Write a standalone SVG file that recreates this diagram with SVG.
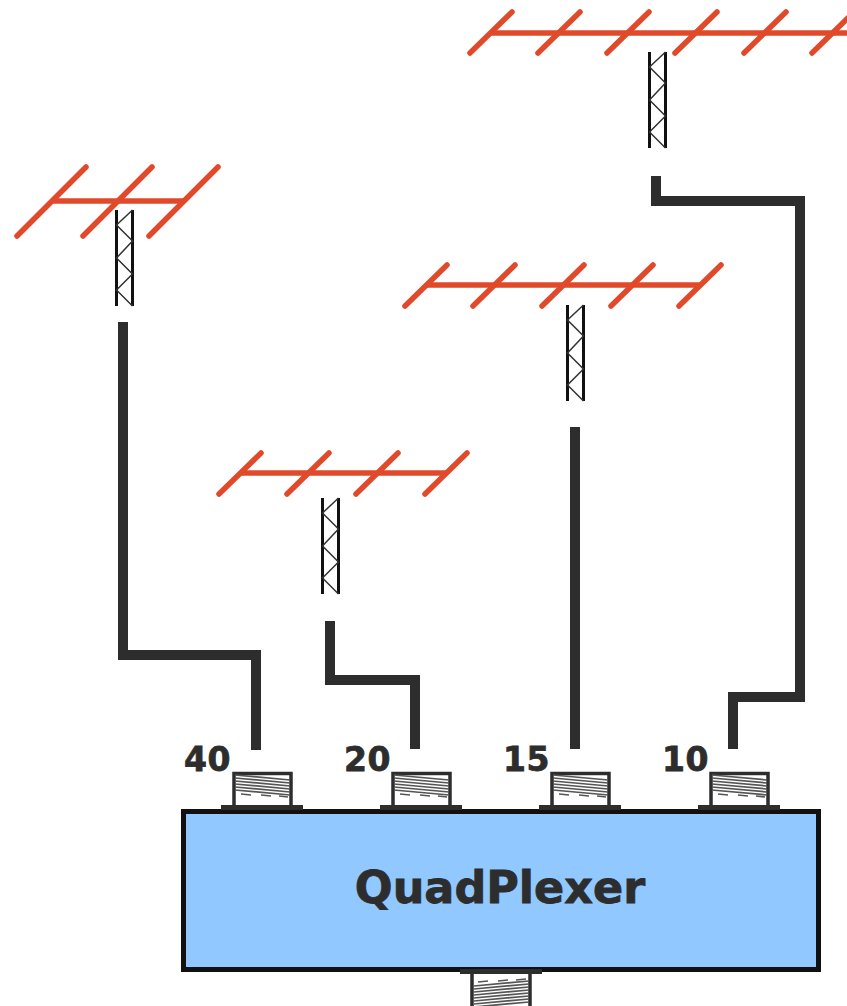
<svg xmlns="http://www.w3.org/2000/svg" width="847" height="1006" viewBox="0 0 847 1006">
<style>
.el{stroke:#e04a2a;stroke-width:5.500;stroke-linecap:round;fill:none}
.boom{stroke:#e04a2a;stroke-width:5.500;fill:none}
.rail{stroke:#111;stroke-width:3;fill:none}
.zig{stroke:#333;stroke-width:1.500;fill:none}
.coax{stroke:#2d2d2d;stroke-width:10;fill:none;stroke-linejoin:miter}
.thread{stroke:#555;stroke-width:1.700;fill:none}
.body{fill:#fff;stroke:#2d2d2d;stroke-width:3.500}
.base{fill:#2d2d2d}
.lbl{font-family:"DejaVu Sans",sans-serif;font-weight:bold;font-size:33px;letter-spacing:0.500px;fill:#2d2d2d;stroke:#2d2d2d;stroke-width:0.800}
.title{font-family:"DejaVu Sans",sans-serif;font-weight:bold;font-size:44.500px;fill:#2d2d2d;stroke:#2d2d2d;stroke-width:0.800}
</style>
<defs>
<g id="tower">
<path class="rail" d="M0.500 0V96M16.500 0V96"/>
<path class="zig" d="M16.500 0L0.500 15L16.500 31L0.500 48L16.500 64L0.500 80L16.500 96"/>
</g>
<g id="yagi"><path class="el" d="M0 41L42 0"/></g>
<g id="thr">
<path class="thread" d="M0 1L55 6M0 4L55 9M0 7L55 12M0 10L55 15M0 13L55 18M0 16L55 21M6 20L16 21M26 21L36 22M44 22L53 23"/>
</g>
<g id="conn">
<rect class="body" x="1" y="1.500" width="57" height="34"/>
<use href="#thr" x="2" y="2"/>
<rect class="base" x="-12" y="33" width="82" height="5"/>
</g>
</defs>

<g id="connectors">
<path class="coax" d="M123 322V655H256V750"/>
<path class="coax" d="M330 621V680H415V749"/>
<path class="coax" d="M575 427V749"/>
<path class="coax" d="M656 176V201H800V697H733V749"/>
</g>

<g id="antenna-40">
<path class="boom" d="M52 201H183"/>
<path class="el" d="M17 236L86 167M83 236L152 167M149 236L218 167"/>
<use href="#tower" x="116" y="210"/>
</g>
<g id="antenna-20">
<path class="boom" d="M240 473H446"/>
<use href="#yagi" x="219" y="453"/><use href="#yagi" x="287" y="453"/><use href="#yagi" x="356" y="453"/><use href="#yagi" x="425" y="453"/>
<use href="#tower" x="322" y="498"/>
</g>
<g id="antenna-15">
<path class="boom" d="M426 285H700"/>
<use href="#yagi" x="405" y="265"/><use href="#yagi" x="473" y="265"/><use href="#yagi" x="542" y="265"/><use href="#yagi" x="611" y="265"/><use href="#yagi" x="679" y="265"/>
<use href="#tower" x="567" y="305"/>
</g>
<g id="antenna-10">
<path class="boom" d="M491 33H847"/>
<use href="#yagi" x="470" y="12"/><use href="#yagi" x="538" y="12"/><use href="#yagi" x="607" y="12"/><use href="#yagi" x="675" y="12"/><use href="#yagi" x="744" y="12"/><use href="#yagi" x="812" y="12"/>
<use href="#tower" x="649" y="52"/>
</g>

<g id="quadplexer">
<rect x="183.500" y="811.500" width="635" height="158" fill="#90c8ff" stroke="#111" stroke-width="5"/>
<text class="title" x="500" y="903" text-anchor="middle">QuadPlexer</text>
</g>

<g id="port-40"><use href="#conn" x="233" y="772"/><text class="lbl" x="184" y="771">40</text></g>
<g id="port-20"><use href="#conn" x="392" y="772"/><text class="lbl" x="344" y="771">20</text></g>
<g id="port-15"><use href="#conn" x="551" y="772"/><text class="lbl" x="503" y="771">15</text></g>
<g id="port-10"><use href="#conn" x="710" y="772"/><text class="lbl" x="662" y="771">10</text></g>
<g id="port-out">
<rect class="body" x="472" y="972" width="58" height="40"/>
<path class="thread" d="M478 982L488 981M498 981L508 980M516 980L526 979M474 986L529 981M474 989L529 984M474 992L529 987M474 995L529 990M474 998L529 993M474 1001L529 996M474 1004L529 999M474 1007L529 1002"/>
<rect class="base" x="460" y="969" width="82" height="5"/>
</g>
</svg>
